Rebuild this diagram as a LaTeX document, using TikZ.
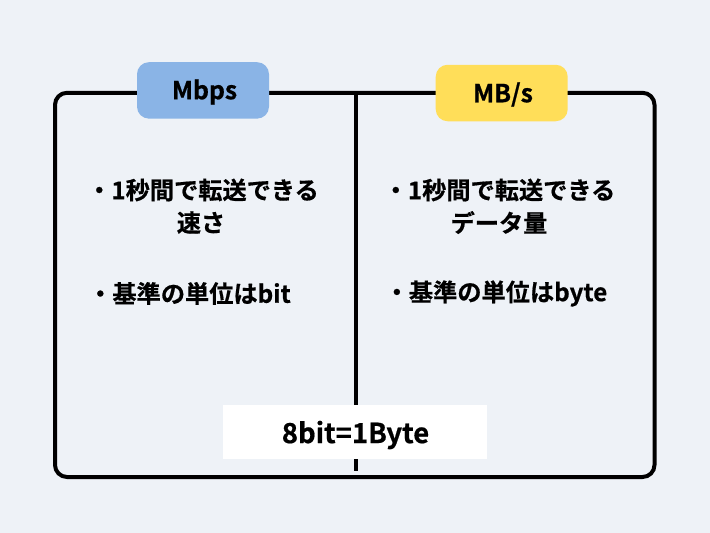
\documentclass[tikz,border=0pt]{standalone}
\usepackage{fontspec}
\setmainfont{Noto Sans CJK JP}[BoldFont={Noto Sans CJK JP Bold},BoldFeatures={FakeBold=0.6}]
\definecolor{bgc}{HTML}{EEF2F7}
\definecolor{bluec}{HTML}{8AB4E6}
\definecolor{yelc}{HTML}{FFDE59}
\tikzset{
  txt/.style={inner sep=0pt,font=\bfseries\fontsize{24.2}{24.2}\selectfont,text=black},
  lbl/.style={inner sep=0pt,font=\bfseries\fontsize{24.8}{24.8}\selectfont,text=black},
  frameline/.style={line width=4pt,black},
  tag/.style={rounded corners=12pt,draw=none,minimum width=132pt,minimum height=56.5pt,inner sep=0pt}
}
\begin{document}
\begin{tikzpicture}[x=1pt,y=-1pt]
\useasboundingbox (0,0) rectangle (710,533);
\fill[bgc] (0,0) rectangle (710,533);
\coordinate (tl) at (55,92.8);
\coordinate (br) at (654.5,477);
\coordinate (vt) at (355.5,92.8);
\coordinate (vb) at (355.5,471);
\draw[frameline,rounded corners=12pt] (tl) rectangle (br);
\draw[frameline] (vt) -- (vb);
\node[tag,fill=bluec] (mbps) at (203,90.4) {};
\node[lbl] (mbpst) at (204.5,92) {Mbps};
\node[tag,fill=yelc] (mbs) at (501.7,93) {};
\node[lbl] (mbst) at (503,94.5) {MB/s};
\node[fill=white,minimum width=264.6pt,minimum height=54.3pt,inner sep=0pt] (note) at (355,432.2) {};
\node[txt,font=\bfseries\fontsize{27.5}{27.5}\selectfont] (notet) at (355.5,435) {8bit=1Byte};
\node[txt] (a1) at (203,190) {・1秒間で転送できる};
\node[txt] (a2) at (201,222.5) {速さ};
\node[txt] (a3) at (189.5,293.5) {・基準の単位はbit};
\node[txt] (b1) at (499.5,190) {・1秒間で転送できる};
\node[txt] (b2) at (499,222.5) {データ量};
\node[txt] (b3) at (496,293.5) {・基準の単位はbyte};
\end{tikzpicture}
\end{document}
